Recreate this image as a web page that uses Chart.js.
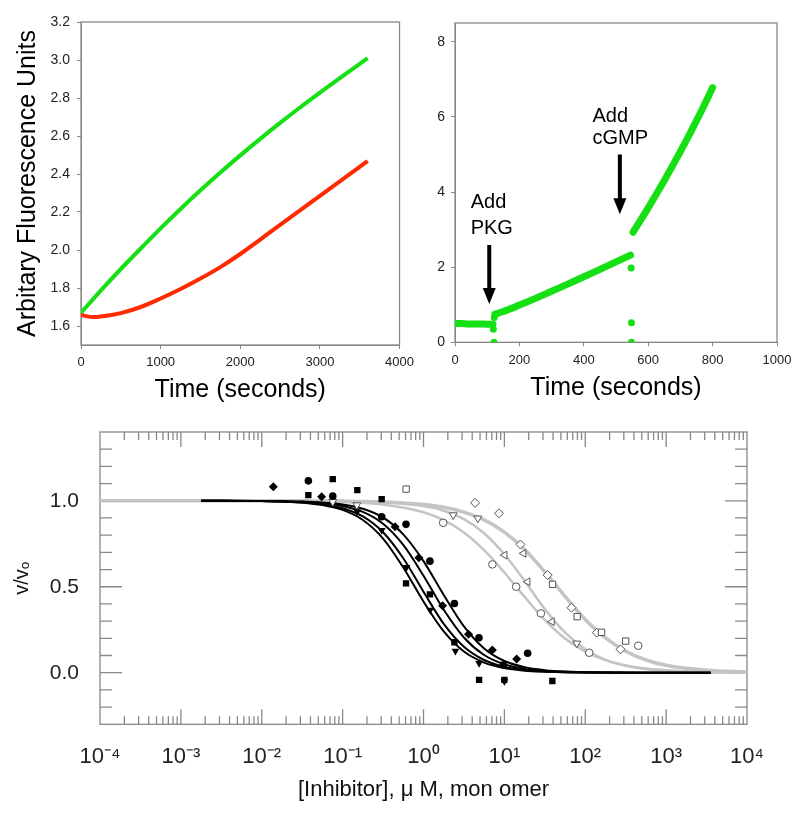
<!DOCTYPE html>
<html>
<head>
<meta charset="utf-8">
<script src="https://cdn.jsdelivr.net/npm/chart.js@4.4.1/dist/chart.umd.min.js"></script>
<style>
  body { margin: 0; background: #fff; }
  #wrap { position: relative; width: 800px; height: 813px; }
  canvas { position: absolute; }
</style>
</head>
<body>
<div id="wrap">
  <canvas id="kinetics" width="420" height="405" style="left:0;top:0"></canvas>
  <canvas id="activation" width="380" height="405" style="left:420px;top:0"></canvas>
  <canvas id="inhibition" width="800" height="408" style="left:0;top:405px"></canvas>
</div>
<script>
// ---- top left: fluorescence traces ----
const timeA = [0, 150, 250, 500, 750, 1000, 1250, 1500, 1750, 2000, 2250, 2500, 2750, 3000, 3250, 3500, 3600];
const greenA = [1.67, 1.74, 1.787, 1.90, 2.008, 2.114, 2.216, 2.314, 2.408, 2.498, 2.585, 2.669, 2.75, 2.828, 2.905, 2.98, 3.01];
const redA = [1.658, 1.647, 1.65, 1.668, 1.70, 1.745, 1.795, 1.85, 1.91, 1.979, 2.055, 2.132, 2.208, 2.285, 2.361, 2.438, 2.468];
const yTicksA = [1.6, 1.8, 2.0, 2.2, 2.4, 2.6, 2.8, 3.0, 3.2];

// ---- top right: PKG / cGMP activation ----
const baseT = [0, 20, 40, 60, 80, 100, 118];
const baseV = [0.5, 0.5, 0.49, 0.49, 0.49, 0.48, 0.48];
const pkgT = [124, 150, 200, 250, 300, 350, 400, 450, 500, 545];
const pkgV = [0.75, 0.82, 0.99, 1.17, 1.36, 1.55, 1.745, 1.94, 2.14, 2.32];
const cgmpT = [553, 575, 600, 625, 650, 675, 700, 725, 750, 775, 800];
const cgmpV = [2.93, 3.23, 3.58, 3.94, 4.31, 4.69, 5.08, 5.48, 5.9, 6.33, 6.78];
const mixT = [119, 121, 122, 547, 548, 548];
const mixV = [0.35, 0.0, 0.66, 1.98, 0.52, 0.0];

// ---- bottom: inhibition curves ----
const xDecades = [1e-4, 1e-3, 1e-2, 1e-1, 1, 10, 100, 1000, 10000];
const xTickLabels = ['10⁻⁴', '10⁻³', '10⁻²', '10⁻¹', '10⁰', '10¹', '10²', '10³', '10⁴'];
const yMajor = [0, 0.5, 1.0];
const yMinor = [-0.2, -0.1, 0.1, 0.2, 0.3, 0.4, 0.6, 0.7, 0.8, 0.9, 1.1, 1.2, 1.3];

const diamondX = [0.0139, 0.055, 0.445, 0.877, 1.72, 3.6, 7.1, 14.2];
const diamondY = [1.081, 1.023, 0.849, 0.669, 0.39, 0.223, 0.132, 0.08];
const circleX = [0.0377, 0.0755, 0.304, 0.608, 1.2, 2.41, 4.85, 9.7, 19.4];
const circleY = [1.116, 1.027, 0.907, 0.863, 0.649, 0.403, 0.203, 0.045, 0.113];
const squareX = [0.0377, 0.0755, 0.152, 0.304, 0.608, 1.2, 2.41, 4.87, 10, 39.2];
const squareY = [1.033, 1.126, 1.062, 1.01, 0.52, 0.456, 0.177, -0.042, -0.042, -0.048];
const triX = [0.152, 0.304, 0.616, 1.21, 2.48, 4.87, 10];
const triY = [0.936, 0.829, 0.613, 0.365, 0.126, 0.055, -0.05];

const openSquareX = [0.61, 39.4, 79.4, 159, 316];
const openSquareY = [1.068, 0.514, 0.326, 0.235, 0.184];
const openDiamondX = [4.34, 8.57, 15.8, 34.3, 67.6, 139, 273];
const openDiamondY = [0.988, 0.927, 0.746, 0.568, 0.378, 0.233, 0.136];
const openCircleX = [1.75, 7.1, 14, 28.3, 112, 452];
const openCircleY = [0.872, 0.63, 0.5, 0.345, 0.116, 0.157];
const openTriX = [0.0755, 0.15, 2.33, 4.7, 78.5];
const openTriY = [0.994, 0.975, 0.917, 0.898, 0.171];
const openLeftX = [10.1, 17.3, 19.4, 38.8];
const openLeftY = [0.684, 0.694, 0.529, 0.297];

const fitBlackX = [0.00178, 0.00316, 0.00562, 0.01, 0.0178, 0.0316, 0.0562, 0.1, 0.178, 0.316, 0.562, 1, 1.78, 3.16, 5.62, 10, 17.8, 31.6, 56.2, 100, 316, 1000, 3548];
const fitB1 = [1, 1, 0.999, 0.998, 0.995, 0.989, 0.975, 0.947, 0.888, 0.780, 0.612, 0.414, 0.240, 0.123, 0.059, 0.027, 0.012, 0.006, 0.0025, 0.001, 0, 0, 0];
const fitB2 = [1, 1, 0.999, 0.998, 0.996, 0.991, 0.980, 0.957, 0.909, 0.817, 0.666, 0.471, 0.284, 0.151, 0.074, 0.034, 0.016, 0.007, 0.003, 0.0014, 0, 0, 0];
const fitB3 = [1, 1, 0.999, 0.999, 0.997, 0.994, 0.986, 0.970, 0.935, 0.866, 0.743, 0.564, 0.366, 0.205, 0.103, 0.049, 0.022, 0.010, 0.005, 0.002, 0.0004, 0, 0];
const fitB4 = [1, 1, 1, 0.999, 0.998, 0.996, 0.990, 0.979, 0.954, 0.903, 0.805, 0.649, 0.452, 0.269, 0.141, 0.068, 0.032, 0.015, 0.0065, 0.003, 0.0006, 0, 0];

const fitGrayX = [0.0001, 0.001, 0.01, 0.0316, 0.1, 0.316, 1, 1.78, 3.16, 5.62, 10, 17.8, 31.6, 56.2, 100, 178, 316, 562, 1000, 3162, 10000];
const fitG1 = [1, 1, 0.999, 0.998, 0.993, 0.978, 0.933, 0.887, 0.816, 0.713, 0.583, 0.441, 0.307, 0.199, 0.123, 0.073, 0.042, 0.024, 0.014, 0.0044, 0.0014];
const fitG2 = [1, 1, 1, 0.999, 0.998, 0.992, 0.969, 0.942, 0.893, 0.811, 0.689, 0.534, 0.371, 0.234, 0.136, 0.075, 0.040, 0.021, 0.011, 0.003, 0.0008];
const fitG3 = [1, 1, 1, 0.999, 0.998, 0.993, 0.978, 0.962, 0.934, 0.889, 0.818, 0.717, 0.587, 0.444, 0.310, 0.202, 0.125, 0.074, 0.043, 0.014, 0.0045];

const GREEN = '#14e014';
const RED = '#ff2a00';
const AXIS = '#888';
const FONT = "'Liberation Sans', Arial, sans-serif";

Chart.defaults.font.family = FONT;
Chart.defaults.color = '#222';
Chart.defaults.animation = false;
Chart.defaults.plugins.legend.display = false;
Chart.defaults.plugins.tooltip.enabled = false;

const pts = (xs, ys) => xs.map((x, i) => ({ x: x, y: ys[i] }));

// box around the plot area
const framePlugin = {
    id: 'frame',
    beforeDatasetsDraw(chart) {
        const { ctx, chartArea: a } = chart;
        ctx.save();
        ctx.strokeStyle = AXIS;
        ctx.lineWidth = 1.3;
        ctx.strokeRect(a.left, a.top, a.right - a.left, a.bottom - a.top);
        ctx.restore();
    }
};

function outerScale(extra) {
    return Object.assign({
        grid: { drawOnChartArea: false, drawTicks: true, tickLength: 4, color: AXIS },
        border: { color: AXIS }
    }, extra);
}

// Top left
new Chart(document.getElementById('kinetics'), {
    type: 'scatter',
    data: {
        datasets: [
            { data: pts(timeA, greenA), showLine: true, borderColor: GREEN, borderWidth: 4, pointRadius: 0, cubicInterpolationMode: 'monotone' },
            { data: pts(timeA, redA), showLine: true, borderColor: RED, borderWidth: 4, pointRadius: 0, cubicInterpolationMode: 'monotone' }
        ]
    },
    options: {
        responsive: false,
        layout: { padding: { top: 22, right: 14, left: 0, bottom: 0 } },
        scales: {
            x: outerScale({
                type: 'linear', min: 0, max: 4000,
                ticks: { stepSize: 1000, padding: 6, font: { size: 13 }, callback: v => String(v) },
                title: { display: true, text: 'Time (seconds)', color: '#000', font: { size: 25 }, padding: { top: 0, bottom: 0 } },
                afterFit(s) { s.height = 60; }
            }),
            y: outerScale({
                min: 1.5, max: 3.2,
                afterBuildTicks(s) { s.ticks = yTicksA.map(v => ({ value: v })); },
                ticks: { padding: 7, font: { size: 14 }, callback: v => v.toFixed(1) },
                title: { display: true, text: 'Arbitary Fluorescence Units', color: '#000', font: { size: 25 }, padding: { top: 13, bottom: 0 } },
                afterFit(s) { s.width = 81; }
            })
        }
    },
    plugins: [framePlugin]
});

// Top right
const callouts = [
    { lines: ['Add', 'PKG'], textAt: [48.7, 3.57], gap: 26, arrowX: 106.4, arrowFrom: 2.59, arrowTo: 1.02 },
    { lines: ['Add', 'cGMP'], textAt: [427, 5.86], gap: 22, arrowX: 512, arrowFrom: 5.0, arrowTo: 3.41 }
];

const calloutPlugin = {
    id: 'callouts',
    afterDatasetsDraw(chart) {
        const { ctx, scales: { x, y } } = chart;
        ctx.save();
        ctx.fillStyle = '#000';
        ctx.font = '20px ' + FONT;
        callouts.forEach(c => {
            const tx = x.getPixelForValue(c.textAt[0]);
            const ty = y.getPixelForValue(c.textAt[1]);
            c.lines.forEach((line, i) => ctx.fillText(line, tx, ty + i * c.gap));
            const ax = x.getPixelForValue(c.arrowX);
            const y0 = y.getPixelForValue(c.arrowFrom);
            const y1 = y.getPixelForValue(c.arrowTo);
            ctx.fillRect(ax - 2, y0, 4, y1 - y0 - 14);
            ctx.beginPath();
            ctx.moveTo(ax - 6.5, y1 - 16);
            ctx.lineTo(ax + 6.5, y1 - 16);
            ctx.lineTo(ax, y1);
            ctx.closePath();
            ctx.fill();
        });
        ctx.restore();
    }
};

function trace(ts, vs) {
    return { data: pts(ts, vs), showLine: true, borderColor: GREEN, borderWidth: 7, borderCapStyle: 'round', pointRadius: 0, cubicInterpolationMode: 'monotone' };
}

new Chart(document.getElementById('activation'), {
    type: 'scatter',
    data: {
        datasets: [
            trace(baseT, baseV),
            trace(pkgT, pkgV),
            trace(cgmpT, cgmpV),
            { data: pts(mixT, mixV), showLine: false, pointRadius: 3.5, pointBackgroundColor: GREEN, pointBorderWidth: 0 }
        ]
    },
    options: {
        responsive: false,
        layout: { padding: { top: 23, right: 23, left: 0, bottom: 0 } },
        scales: {
            x: outerScale({
                type: 'linear', min: 0, max: 1000,
                ticks: { stepSize: 200, padding: 6, font: { size: 13 }, callback: v => String(v) },
                title: { display: true, text: 'Time (seconds)', color: '#000', font: { size: 25 }, padding: { top: 0, bottom: 2 } },
                afterFit(s) { s.height = 62.7; }
            }),
            y: outerScale({
                min: 0, max: 8.5,
                afterBuildTicks(s) { s.ticks = [0, 2, 4, 6, 8].map(v => ({ value: v })); },
                ticks: { padding: 6, font: { size: 14 } },
                afterFit(s) { s.width = 35; }
            })
        }
    },
    plugins: [framePlugin, calloutPlugin]
});

// Bottom
const innerTicks = {
    id: 'innerTicks',
    beforeDatasetsDraw(chart) {
        const { ctx, chartArea: a, scales: { x, y } } = chart;
        ctx.save();
        ctx.strokeStyle = AXIS;
        ctx.lineWidth = 1.3;
        ctx.beginPath();
        const vtick = (px, len) => {
            ctx.moveTo(px, a.bottom); ctx.lineTo(px, a.bottom - len);
            ctx.moveTo(px, a.top); ctx.lineTo(px, a.top + len);
        };
        const htick = (py, len) => {
            ctx.moveTo(a.left, py); ctx.lineTo(a.left + len, py);
            ctx.moveTo(a.right, py); ctx.lineTo(a.right - len, py);
        };
        xDecades.forEach((d, i) => {
            if (i > 0 && i < xDecades.length - 1) vtick(x.getPixelForValue(d), 15);
            if (i < xDecades.length - 1) {
                for (let k = 2; k <= 9; k++) vtick(x.getPixelForValue(k * d), 8);
            }
        });
        yMajor.forEach(v => htick(y.getPixelForValue(v), 22));
        yMinor.forEach(v => htick(y.getPixelForValue(v), 12));
        ctx.stroke();
        ctx.restore();
    }
};

function markers(xs, ys, style, filled, radius, rotation) {
    return {
        data: pts(xs, ys), showLine: false, order: 0,
        pointStyle: style, pointRotation: rotation || 0, pointRadius: radius,
        pointBackgroundColor: filled ? '#000' : '#fff',
        pointBorderColor: filled ? '#000' : '#555',
        pointBorderWidth: filled ? 0 : 1
    };
}

function fit(xs, ys, color, width, order) {
    return { data: pts(xs, ys), showLine: true, borderColor: color, borderWidth: width, pointRadius: 0, cubicInterpolationMode: 'monotone', order: order };
}

const GRAY = '#c4c4c4';

new Chart(document.getElementById('inhibition'), {
    type: 'scatter',
    data: {
        datasets: [
            markers(diamondX, diamondY, 'rectRot', true, 4.5),
            markers(circleX, circleY, 'circle', true, 3.8),
            markers(squareX, squareY, 'rect', true, 4.5),
            markers(triX, triY, 'triangle', true, 4.5, 180),
            markers(openSquareX, openSquareY, 'rect', false, 4.5),
            markers(openDiamondX, openDiamondY, 'rectRot', false, 4.5),
            markers(openCircleX, openCircleY, 'circle', false, 3.8),
            markers(openTriX, openTriY, 'triangle', false, 4.5, 180),
            markers(openLeftX, openLeftY, 'triangle', false, 4.5, 270),
            fit(fitBlackX, fitB1, '#000', 2, 1),
            fit(fitBlackX, fitB2, '#000', 2, 1),
            fit(fitBlackX, fitB3, '#000', 2, 1),
            fit(fitBlackX, fitB4, '#000', 2, 1),
            fit(fitGrayX, fitG1, GRAY, 2.5, 2),
            fit(fitGrayX, fitG2, GRAY, 2.5, 2),
            fit(fitGrayX, fitG3, GRAY, 3.5, 2)
        ]
    },
    options: {
        responsive: false,
        layout: { padding: { top: 27, right: 53, left: 0, bottom: 0 } },
        scales: {
            x: {
                type: 'logarithmic', min: 1e-4, max: 1e4,
                afterBuildTicks(s) { s.ticks = xDecades.map(v => ({ value: v })); },
                ticks: { autoSkip: false, maxRotation: 0, padding: 11, font: { size: 22 }, callback: (v, i) => xTickLabels[i] },
                grid: { display: false },
                border: { display: false },
                title: { display: true, text: '[Inhibitor], μ M, mon omer', color: '#111', font: { size: 22 }, padding: { top: 0, bottom: 10 } },
                afterFit(s) { s.height = 88.7; }
            },
            y: {
                min: -0.3, max: 1.4,
                afterBuildTicks(s) { s.ticks = yMajor.map(v => ({ value: v })); },
                ticks: { padding: 13, font: { size: 21 }, callback: v => v.toFixed(1) },
                grid: { display: false },
                border: { display: false },
                title: { display: true, text: 'v/vₒ', color: '#111', font: { size: 20 }, padding: { top: 10, bottom: 0 } },
                afterFit(s) { s.width = 100; }
            }
        }
    },
    plugins: [framePlugin, innerTicks]
});
</script>
</body>
</html>
